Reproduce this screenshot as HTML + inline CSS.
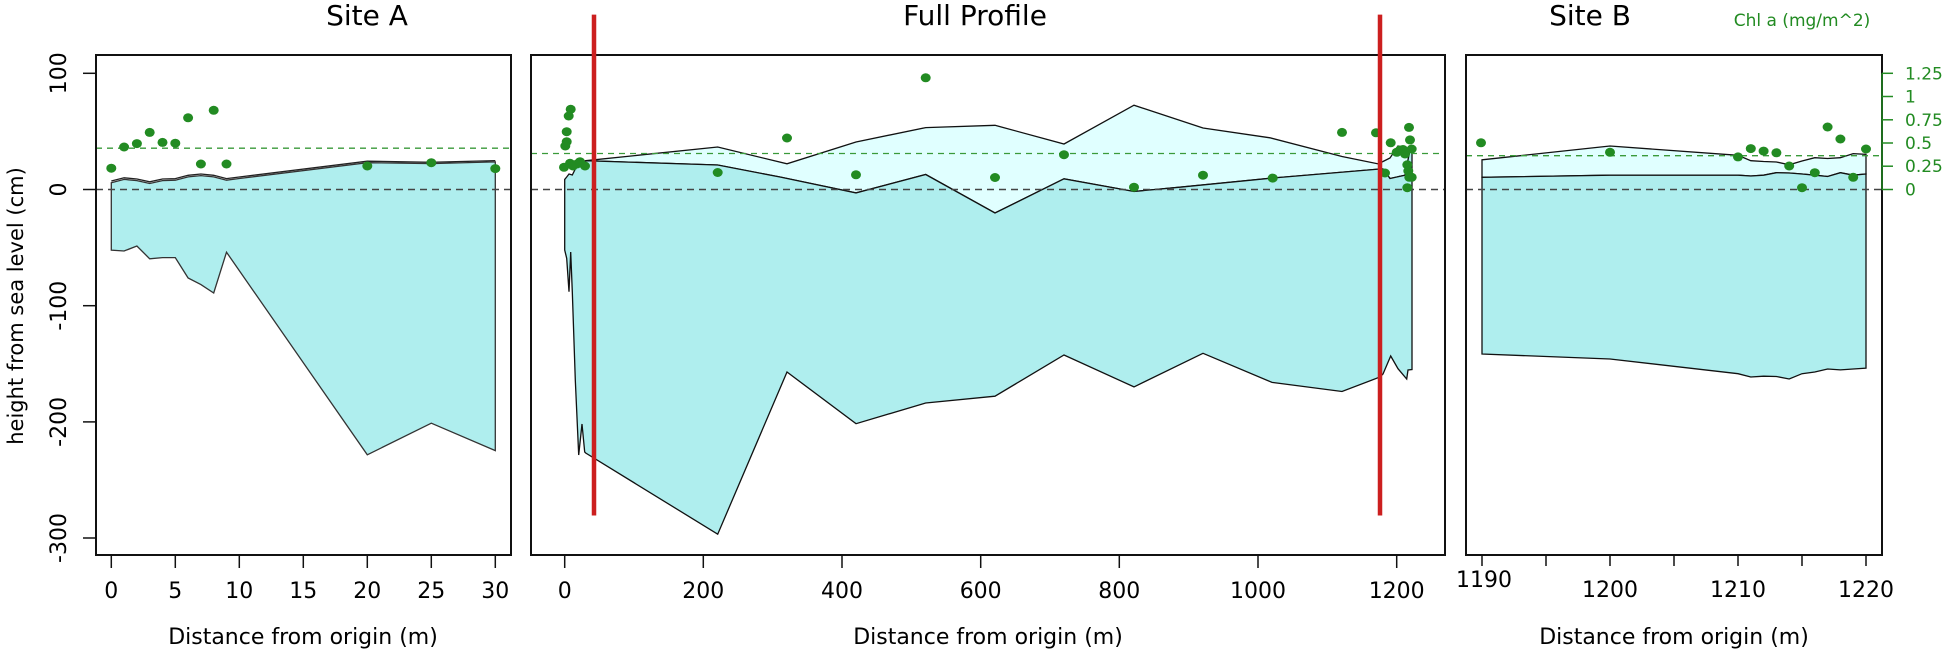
<!DOCTYPE html>
<html><head><meta charset="utf-8"><style>
html,body{margin:0;padding:0;background:#fff;}
svg{display:block;font-family:"DejaVu Sans","Liberation Sans",sans-serif;}
</style></head><body>
<svg width="1949" height="654" viewBox="0 0 1949 654" xmlns="http://www.w3.org/2000/svg">
<text x="367" y="25" font-size="28" text-anchor="middle">Site A</text>
<text x="975" y="25" font-size="28" text-anchor="middle">Full Profile</text>
<text x="1590" y="25" font-size="28" text-anchor="middle">Site B</text>
<text x="1802" y="26" font-size="17" fill="#228B22" text-anchor="middle">Chl a (mg/m^2)</text>

<!-- ===== Panel 1 ===== -->
<polygon fill="#AFEEEE" stroke="#333" stroke-width="1.3" points="111.3,182.7 124.1,179.4 136.9,180.6 149.7,183.5 162.5,180.6 175.3,180.2 188.1,176.9 200.9,175.6 213.7,176.9 226.5,180.2 239.3,178.5 367.3,162.7 431.3,163.6 495.3,161.9 495.3,450.6 431.3,423.2 367.3,454.8 226.5,252.2 213.7,293 200.9,284.6 188.1,278 175.3,257.6 162.5,257.6 149.7,258.8 136.9,246 124.1,251 111.3,250.1"/>
<polyline fill="none" stroke="#222" stroke-width="1.3" points="111.3,181 124.1,177.8 136.9,179 149.7,181.8 162.5,179 175.3,178.6 188.1,175.3 200.9,174 213.7,175.3 226.5,178.6 239.3,177 367.3,161.2 431.3,162.3 495.3,160.6"/>
<line x1="96" y1="189.5" x2="511" y2="189.5" stroke="#444" stroke-width="1.5" stroke-dasharray="7,5"/>
<line x1="96" y1="148.2" x2="511" y2="148.2" stroke="#3a9a3a" stroke-width="1.3" stroke-dasharray="6,5"/>
<g fill="#228B22">
<ellipse cx="111.3" cy="168.2" rx="5" ry="4.5"/><ellipse cx="124.1" cy="147" rx="5" ry="4.5"/><ellipse cx="136.9" cy="143.6" rx="5" ry="4.5"/><ellipse cx="149.7" cy="132.4" rx="5" ry="4.5"/><ellipse cx="162.5" cy="142.4" rx="5" ry="4.5"/><ellipse cx="175.3" cy="143.2" rx="5" ry="4.5"/><ellipse cx="188.1" cy="117.8" rx="5" ry="4.5"/><ellipse cx="200.9" cy="164" rx="5" ry="4.5"/><ellipse cx="213.7" cy="110.3" rx="5" ry="4.5"/><ellipse cx="226.5" cy="164" rx="5" ry="4.5"/><ellipse cx="367.3" cy="166" rx="5" ry="4.5"/><ellipse cx="431.3" cy="162.7" rx="5" ry="4.5"/><ellipse cx="495.3" cy="168.6" rx="5" ry="4.5"/>
</g>
<rect x="96" y="55" width="415" height="500" fill="none" stroke="#111" stroke-width="2"/>
<g stroke="#111" stroke-width="1.5">
<line x1="83" y1="73.3" x2="96" y2="73.3"/><line x1="83" y1="189.5" x2="96" y2="189.5"/><line x1="83" y1="305.7" x2="96" y2="305.7"/><line x1="83" y1="421.9" x2="96" y2="421.9"/><line x1="83" y1="538" x2="96" y2="538"/>
</g>
<g font-size="22" text-anchor="middle">
<text transform="translate(66,73.3) rotate(-90)">100</text>
<text transform="translate(66,189.5) rotate(-90)">0</text>
<text transform="translate(66,305.7) rotate(-90)">-100</text>
<text transform="translate(66,421.9) rotate(-90)">-200</text>
<text transform="translate(66,538) rotate(-90)">-300</text>
<text transform="translate(23,306) rotate(-90)" font-size="21">height from sea level (cm)</text>
</g>
<g stroke="#111" stroke-width="1.5">
<line x1="111.3" y1="555" x2="111.3" y2="568"/><line x1="175.3" y1="555" x2="175.3" y2="568"/><line x1="239.3" y1="555" x2="239.3" y2="568"/><line x1="303.3" y1="555" x2="303.3" y2="568"/><line x1="367.3" y1="555" x2="367.3" y2="568"/><line x1="431.3" y1="555" x2="431.3" y2="568"/><line x1="495.3" y1="555" x2="495.3" y2="568"/>
</g>
<g font-size="22" text-anchor="middle">
<text x="111.3" y="598">0</text><text x="175.3" y="598">5</text><text x="239.3" y="598">10</text><text x="303.3" y="598">15</text><text x="367.3" y="598">20</text><text x="431.3" y="598">25</text><text x="495.3" y="598">30</text>
<text x="303" y="644" font-size="22">Distance from origin (m)</text>
</g>

<!-- ===== Panel 2 ===== -->
<polygon fill="#E0FFFF" stroke="#111" stroke-width="1.3" points="585.7,160.7 717.7,147 787,163.8 856,142 925.7,127.6 995,125.3 1064,144 1134,105.2 1203,128 1270,137.8 1342,156.5 1378.7,164 1383,161.5 1390,158 1398,146 1405,148 1410,150 1405,175.2 1390,178.5 1383,169 1380,169 1273,178 1180,187.2 1134,191.5 1064,178.8 995,213 925.7,174.5 856,192.9 780,177 717.7,165 585.7,160.7"/>
<polygon fill="#AFEEEE" stroke="#111" stroke-width="1.3" points="564.7,179.4 566.7,177 569,174 572.3,175 575.3,169 578.7,165 582,162 585.7,160.7 717.7,165 780,177 856,192.9 925.7,174.5 995,213 1064,178.8 1134,191.5 1180,187.2 1273,178 1380,169 1383,169 1390,178.5 1405,175.2 1408,160 1410,150 1412,150 1412,369.5 1408,370 1406.7,379 1398,368.7 1390.7,356 1383,374 1380,377 1342,391.5 1272,382.4 1203,353.3 1134,386.9 1064,355 995,396.2 925.7,403 856,423.7 787,372 717.7,534.2 585.7,453 584.7,452 582,424 578.7,455 575.3,380 572.3,291.7 570.7,252 569,291.7 566.7,258.4 564.7,250"/>
<line x1="531" y1="189.5" x2="1445" y2="189.5" stroke="#444" stroke-width="1.5" stroke-dasharray="7,5"/>
<line x1="531" y1="153.5" x2="1445" y2="153.5" stroke="#3a9a3a" stroke-width="1.3" stroke-dasharray="6,5"/>
<g fill="#228B22">
<ellipse cx="570.7" cy="109.3" rx="5" ry="4.5"/><ellipse cx="568.7" cy="116" rx="5" ry="4.5"/><ellipse cx="566.7" cy="131.7" rx="5" ry="4.5"/><ellipse cx="566.7" cy="141.7" rx="5" ry="4.5"/><ellipse cx="565.3" cy="146" rx="5" ry="4.5"/><ellipse cx="564" cy="167.3" rx="5" ry="4.5"/><ellipse cx="570" cy="163.3" rx="5" ry="4.5"/><ellipse cx="573" cy="166" rx="5" ry="4.5"/><ellipse cx="577" cy="164" rx="5" ry="4.5"/><ellipse cx="580" cy="161.7" rx="5" ry="4.5"/><ellipse cx="585" cy="166" rx="5" ry="4.5"/>
<ellipse cx="717.7" cy="172.5" rx="5" ry="4.5"/><ellipse cx="787" cy="138" rx="5" ry="4.5"/><ellipse cx="856" cy="174.8" rx="5" ry="4.5"/><ellipse cx="925.7" cy="77.8" rx="5" ry="4.5"/><ellipse cx="995" cy="177.5" rx="5" ry="4.5"/><ellipse cx="1064" cy="154.7" rx="5" ry="4.5"/><ellipse cx="1134" cy="187.2" rx="5" ry="4.5"/><ellipse cx="1203" cy="175.2" rx="5" ry="4.5"/><ellipse cx="1272.7" cy="178.1" rx="5" ry="4.5"/>
<ellipse cx="1342" cy="132.4" rx="5" ry="4.5"/><ellipse cx="1376" cy="132.8" rx="5" ry="4.5"/><ellipse cx="1385" cy="173" rx="5" ry="4.5"/><ellipse cx="1390.7" cy="142.8" rx="5" ry="4.5"/><ellipse cx="1396.7" cy="152.3" rx="5" ry="4.5"/><ellipse cx="1400" cy="150" rx="5" ry="4.5"/><ellipse cx="1403" cy="149.5" rx="5" ry="4.5"/><ellipse cx="1405" cy="154" rx="5" ry="4.5"/><ellipse cx="1409" cy="127.4" rx="5" ry="4.5"/><ellipse cx="1410" cy="139.9" rx="5" ry="4.5"/><ellipse cx="1411.7" cy="149" rx="5" ry="4.5"/><ellipse cx="1407.3" cy="164.8" rx="5" ry="4.5"/><ellipse cx="1408.3" cy="171" rx="5" ry="4.5"/><ellipse cx="1409.3" cy="177.3" rx="5" ry="4.5"/><ellipse cx="1411.7" cy="177.3" rx="5" ry="4.5"/><ellipse cx="1407.3" cy="187.7" rx="5" ry="4.5"/>
</g>
<rect x="531" y="55" width="914" height="500" fill="none" stroke="#111" stroke-width="2"/>
<line x1="594" y1="14.6" x2="594" y2="515.5" stroke="#CC1F1F" stroke-width="4.5"/>
<line x1="1380" y1="14.6" x2="1380" y2="515.5" stroke="#CC1F1F" stroke-width="4.5"/>
<g stroke="#111" stroke-width="1.5">
<line x1="564.7" y1="555" x2="564.7" y2="568"/><line x1="703.3" y1="555" x2="703.3" y2="568"/><line x1="842" y1="555" x2="842" y2="568"/><line x1="980.7" y1="555" x2="980.7" y2="568"/><line x1="1119.3" y1="555" x2="1119.3" y2="568"/><line x1="1258" y1="555" x2="1258" y2="568"/><line x1="1396.7" y1="555" x2="1396.7" y2="568"/>
</g>
<g font-size="22" text-anchor="middle">
<text x="564.7" y="598">0</text><text x="703.3" y="598">200</text><text x="842" y="598">400</text><text x="980.7" y="598">600</text><text x="1119.3" y="598">800</text><text x="1258" y="598">1000</text><text x="1396.7" y="598">1200</text>
<text x="988" y="644" font-size="22">Distance from origin (m)</text>
</g>

<!-- ===== Panel 3 ===== -->
<polygon fill="#E0FFFF" stroke="#111" stroke-width="1.3" points="1482,159.8 1610,146 1738,155.3 1750.8,160.7 1763.6,161.5 1776.4,162 1789.2,164.8 1802,161 1814.8,157.7 1827.6,158.5 1840.4,157.7 1853.2,153.6 1866,154.4 1866,174 1853.2,175.2 1840.4,172.7 1827.6,176.5 1814.8,175.2 1802,174 1789.2,173 1776.4,172.7 1763.6,175.2 1750.8,176 1738,175.2 1610,175.2 1482,177.3"/>
<polygon fill="#AFEEEE" stroke="#111" stroke-width="1.3" points="1482,177.3 1610,175.2 1738,175.2 1750.8,176 1763.6,175.2 1776.4,172.7 1789.2,173 1802,174 1814.8,175.2 1827.6,176.5 1840.4,172.7 1853.2,175.2 1866,174 1866,368.2 1853.2,369 1840.4,369.9 1827.6,369 1814.8,372 1802,373.7 1789.2,379 1776.4,376.5 1763.6,376.2 1750.8,377 1738,373.7 1610,359 1482,354"/>
<line x1="1466" y1="189.5" x2="1882" y2="189.5" stroke="#444" stroke-width="1.5" stroke-dasharray="7,5"/>
<line x1="1466" y1="155.7" x2="1882" y2="155.7" stroke="#3a9a3a" stroke-width="1.3" stroke-dasharray="6,5"/>
<g fill="#228B22">
<ellipse cx="1481" cy="142.8" rx="5" ry="4.5"/><ellipse cx="1610" cy="152.3" rx="5" ry="4.5"/><ellipse cx="1738" cy="156.9" rx="5" ry="4.5"/><ellipse cx="1750.8" cy="148.6" rx="5" ry="4.5"/><ellipse cx="1763.6" cy="151.1" rx="5" ry="4.5"/><ellipse cx="1776.4" cy="152.8" rx="5" ry="4.5"/><ellipse cx="1789.2" cy="166" rx="5" ry="4.5"/><ellipse cx="1802" cy="187.7" rx="5" ry="4.5"/><ellipse cx="1814.8" cy="172.7" rx="5" ry="4.5"/><ellipse cx="1827.6" cy="127" rx="5" ry="4.5"/><ellipse cx="1840.4" cy="139" rx="5" ry="4.5"/><ellipse cx="1853.2" cy="177.3" rx="5" ry="4.5"/><ellipse cx="1866" cy="149" rx="5" ry="4.5"/>
</g>
<rect x="1466" y="55" width="416" height="500" fill="none" stroke="#111" stroke-width="2"/>
<g stroke="#111" stroke-width="1.5">
<line x1="1482" y1="555" x2="1482" y2="566"/><line x1="1546" y1="555" x2="1546" y2="566"/><line x1="1610" y1="555" x2="1610" y2="566"/><line x1="1674" y1="555" x2="1674" y2="566"/><line x1="1738" y1="555" x2="1738" y2="566"/><line x1="1802" y1="555" x2="1802" y2="566"/><line x1="1866" y1="555" x2="1866" y2="566"/>
</g>
<g font-size="22" text-anchor="middle">
<text x="1484" y="587">1190</text><text x="1610" y="597">1200</text><text x="1738" y="597">1210</text><text x="1866" y="597">1220</text>
<text x="1674" y="644" font-size="22">Distance from origin (m)</text>
</g>
<g stroke="#228B22" stroke-width="1.5">
<line x1="1882" y1="73.3" x2="1882" y2="189.5"/>
<line x1="1882" y1="73.3" x2="1893" y2="73.3"/><line x1="1882" y1="96.5" x2="1893" y2="96.5"/><line x1="1882" y1="119.8" x2="1893" y2="119.8"/><line x1="1882" y1="143" x2="1893" y2="143"/><line x1="1882" y1="166.2" x2="1893" y2="166.2"/><line x1="1882" y1="189.5" x2="1893" y2="189.5"/>
</g>
<g font-size="17" fill="#228B22">
<text x="1905" y="79.3">1.25</text><text x="1905" y="102.5">1</text><text x="1905" y="125.8">0.75</text><text x="1905" y="149">0.5</text><text x="1905" y="172.2">0.25</text><text x="1905" y="195.5">0</text>
</g>
</svg>
</body></html>
